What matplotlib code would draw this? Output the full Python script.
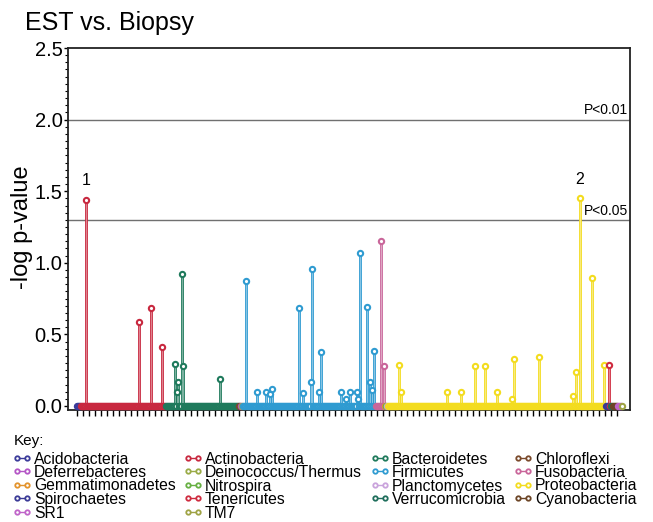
import numpy as np
import matplotlib
matplotlib.use("Agg")
import matplotlib.pyplot as plt
from matplotlib.lines import Line2D

plt.rcParams["font.family"] = ["Liberation Sans", "DejaVu Sans"]

# phyla in plotting order, colour, number of taxa in each block
PHYLA = ["Acidobacteria", "Actinobacteria", "Bacteroidetes", "Chloroflexi",
         "Deferrebacteres", "Deinococcus/Thermus", "Firmicutes", "Fusobacteria",
         "Gemmatimonadetes", "Nitrospira", "Planctomycetes", "Proteobacteria",
         "Spirochaetes", "Tenericutes", "Verrucomicrobia", "Cyanobacteria",
         "SR1", "TM7"]
COLORS = ["#3b3b9a", "#c8283f", "#1f7a5c", "#7b4a2b",
          "#b456c6", "#9aab47", "#2f9bd1", "#c9669a",
          "#e3932c", "#67b043", "#c9a3dc", "#f3dc1f",
          "#3a3a96", "#cf2b3f", "#1f6e5c", "#6c4526",
          "#c064c9", "#9fa345"]
N_TAXA = [4, 85, 73, 2, 1, 1, 133, 9, 1, 1, 1, 218, 3, 2, 2, 5, 4, 1]

# non-zero -log p values: (taxon position inside its phylum, value); all others are 0
PEAKS = {
    "Actinobacteria": ([5, 58, 70, 81], [1.44, 0.585, 0.685, 0.41]),
    "Bacteroidetes": ([9, 11, 12, 16, 17, 54], [0.29, 0.10, 0.165, 0.92, 0.28, 0.19]),
    "Firmicutes": ([3, 14, 23, 27, 29, 56, 60, 68, 69, 76, 78, 98, 103, 107,
                    114, 115, 117, 124, 127, 129, 131],
                   [0.87, 0.10, 0.10, 0.085, 0.12, 0.686, 0.09, 0.165, 0.96, 0.10,
                    0.38, 0.10, 0.05, 0.10, 0.10, 0.05, 1.07, 0.69, 0.165, 0.11, 0.385]),
    "Fusobacteria": ([5, 8], [1.15, 0.28]),
    "Proteobacteria": ([11, 13, 59, 73, 87, 97, 109, 124, 126, 151, 185, 188, 192,
                        204, 216],
                       [0.285, 0.10, 0.10, 0.10, 0.28, 0.28, 0.10, 0.05, 0.33, 0.345,
                        0.07, 0.235, 1.45, 0.895, 0.285]),
    "Tenericutes": ([0], [0.285]),
}
P05, P01 = -np.log10(0.05), -np.log10(0.01)

W, H = 653, 522
fig = plt.figure(figsize=(W / 100, H / 100), dpi=100)
ax = fig.add_axes([68 / W, 1 - 410 / H, 562 / W, 362 / H])

start = 0
sig = []
for name, col, n in zip(PHYLA, COLORS, N_TAXA):
    x = np.arange(start, start + n)
    y = np.zeros(n)
    if name in PEAKS:
        off, v = PEAKS[name]
        y[np.array(off)] = v
    nz = y > 0
    ax.vlines(x[nz], 0, y[nz], color=col, lw=2.0, zorder=2)
    ax.vlines(x[nz], 0, y[nz], color="white", lw=0.6, alpha=0.5, zorder=2.1)
    ax.plot(x, y, ls="none", marker="o", ms=3.8, mew=1.5, mfc="white",
            mec=col, zorder=3)
    for xi, yi in zip(x[nz], y[nz]):
        if yi > P05:
            sig.append((xi, yi))
    start += n

for k, (xi, yi) in enumerate(sig, 1):
    ax.text(xi, yi + 0.1, str(k), ha="center", va="baseline", fontsize=11.5)

for lvl, lab in [(P01, "P<0.01"), (P05, "P<0.05")]:
    ax.axhline(lvl, color="#707070", lw=1.0, zorder=1)
    ax.text(0.997, lvl + 0.015, lab, transform=ax.get_yaxis_transform(),
            ha="right", va="bottom", fontsize=10)

ax.set_xlim(-9, 553)
ax.set_ylim(-0.028, 2.5)
ax.set_xticks(np.arange(0, start, 6))
ax.set_xticklabels([])
ax.set_yticks(np.arange(0, 2.51, 0.5))
ax.set_yticklabels([f"{t:.1f}" for t in np.arange(0, 2.51, 0.5)])
ax.set_yticks(np.arange(0, 2.51, 0.05), minor=True)
ax.tick_params(axis="x", direction="out", length=4, width=1)
ax.tick_params(axis="y", which="major", direction="out", length=3, width=1,
               labelsize=14.5, pad=1)
ax.tick_params(axis="y", which="minor", direction="out", length=2, width=0.8)
for s in ax.spines.values():
    s.set_linewidth(1.3)
    s.set_color("#222222")

fig.text(25 / W, 1 - 30 / H, "EST vs. Biopsy", fontsize=18, va="baseline")
fig.text(22 / W, 1 - 227 / H, "-log p-value", rotation=90, fontsize=17,
         ha="center", va="center")

# key: 4 columns, filled row by row
fig.text(14 / W, 1 - 441 / H, "Key:", fontsize=11, va="center")
col_x = [14, 185, 372, 515]
for i, (name, c) in enumerate(zip(PHYLA, COLORS)):
    r, k = divmod(i, 4)
    yy = 1 - (457.5 + 13.5 * r) / H
    x0 = col_x[k]
    fig.add_artist(Line2D([(x0 + 3) / W, (x0 + 13) / W], [yy, yy],
                          transform=fig.transFigure, color=c, lw=1.0,
                          marker="o", ms=3.2, mew=1.3, mfc="white", mec=c))
    fig.text((x0 + 20) / W, yy, name, fontsize=11.3, va="center_baseline")

fig.savefig("out.png", dpi=100)
